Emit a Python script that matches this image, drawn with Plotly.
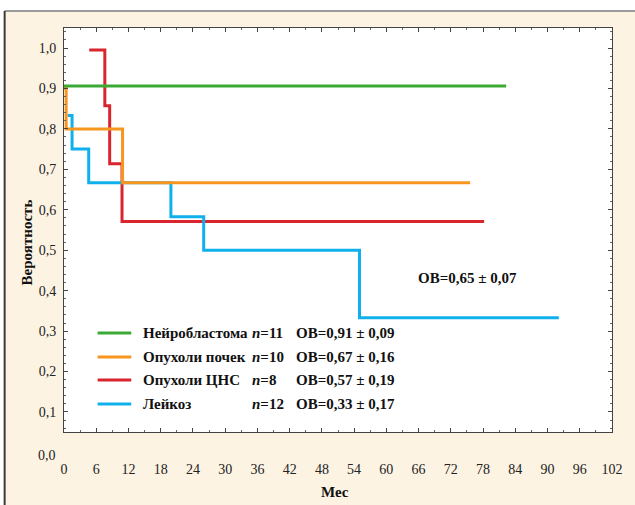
import plotly.graph_objects as go

# ---- data ----
x_ticks = list(range(0, 103, 6))
x_ticklabels = [str(v) for v in x_ticks]
y_ticks = [0.1, 0.2, 0.3, 0.4, 0.5, 0.6, 0.7, 0.8, 0.9, 1.0]
y_ticklabels = ["0,1", "0,2", "0,3", "0,4", "0,5", "0,6", "0,7", "0,8", "0,9", "1,0"]

green_t = [0, 82.3]
green_s = [0.906, 0.906]
orange_t = [0, 0.4, 10.9, 75.6]
orange_s = [0.9, 0.8, 0.667, 0.667]
red_t = [4.7, 7.6, 8.5, 10.8, 78.2]
red_s = [0.995, 0.857, 0.714, 0.571, 0.571]
blue_t = [0.7, 1.5, 4.6, 19.9, 26.0, 55.0, 92.1]
blue_s = [0.833, 0.75, 0.667, 0.583, 0.5, 0.333, 0.333]

groups = ["Нейробластома", "Опухоли почек", "Опухоли ЦНС", "Лейкоз"]
group_n = ["11", "10", "8", "12"]
group_ob = ["0,91 ± 0,09", "0,67 ± 0,16", "0,57 ± 0,19", "0,33 ± 0,17"]
overall_ob = "0,65 ± 0,07"

GREEN = "#3aaa35"
ORANGE = "#f7961f"
RED = "#d9262e"
BLUE = "#10b0ec"
colors = [GREEN, ORANGE, RED, BLUE]

W, H = 635, 505
L, R, T, B = 64, 618, 28, 432
FONT = "Liberation Serif"


def px(x):
    return (x - L) / (R - L)


def py(y):
    return (B - y) / (B - T)


fig = go.Figure()
for t, s, c in [(red_t, red_s, RED), (blue_t, blue_s, BLUE),
                (orange_t, orange_s, ORANGE), (green_t, green_s, GREEN)]:
    fig.add_trace(go.Scatter(x=t, y=s, mode="lines", line=dict(color=c, width=3, shape="hv"),
                             showlegend=False, hoverinfo="skip"))

shapes = [
    # cream panel with border
    dict(type="rect", xref="paper", yref="paper", x0=px(5), x1=px(645), y0=py(515), y1=py(11),
         fillcolor="#fdf3e3", line=dict(width=0), layer="below"),
    dict(type="line", xref="paper", yref="paper", x0=px(4), x1=px(645), y0=py(11), y1=py(11),
         line=dict(color="#9a9a9a", width=2), layer="below"),
    dict(type="line", xref="paper", yref="paper", x0=px(4), x1=px(4), y0=py(11), y1=py(515),
         line=dict(color="#3a3a3a", width=2), layer="below"),
    # white plot area
    dict(type="rect", xref="paper", yref="paper", x0=0, x1=1, y0=0, y1=1,
         fillcolor="white", line=dict(width=0), layer="below"),
]
annotations = []
leg_y = [333, 357, 380, 404]
for i, (g, n, ob) in enumerate(zip(groups, group_n, group_ob)):
    y = py(leg_y[i])
    shapes.append(dict(type="line", xref="paper", yref="paper", x0=px(98), x1=px(132), y0=y, y1=y,
                       line=dict(color=colors[i], width=3)))
    annotations.append(dict(xref="paper", yref="paper", x=px(142), y=y, xanchor="left", yanchor="middle",
                            text="<b>" + g + "</b>", showarrow=False,
                            font=dict(family=FONT, size=15, color="#111")))
    annotations.append(dict(xref="paper", yref="paper", x=px(252), y=y, xanchor="left", yanchor="middle",
                            text="<b><i>n</i>=" + n + "</b>", showarrow=False,
                            font=dict(family=FONT, size=15, color="#111")))
    annotations.append(dict(xref="paper", yref="paper", x=px(297), y=y, xanchor="left", yanchor="middle",
                            text="<b>OB=" + ob + "</b>", showarrow=False,
                            font=dict(family=FONT, size=15, color="#111")))

annotations.append(dict(xref="paper", yref="paper", x=px(420), y=py(278), xanchor="left", yanchor="middle",
                        text="<b>OB=" + overall_ob + "</b>", showarrow=False,
                        font=dict(family=FONT, size=15, color="#111")))
annotations.append(dict(xref="paper", yref="paper", x=px(58), y=py(455), xanchor="right", yanchor="middle",
                        text="0,0", showarrow=False, font=dict(family=FONT, size=14, color="#222")))
annotations.append(dict(xref="paper", yref="paper", x=px(27), y=py(242), xanchor="center", yanchor="middle",
                        text="<b>Вероятность</b>", textangle=-90, showarrow=False,
                        font=dict(family=FONT, size=15, color="#111")))
annotations.append(dict(xref="paper", yref="paper", x=px(338), y=py(492), xanchor="center", yanchor="middle",
                        text="<b>Мес</b>", showarrow=False,
                        font=dict(family=FONT, size=15, color="#111")))

fig.update_layout(
    width=W, height=H,
    margin=dict(l=L, r=W - R, t=T, b=H - B),
    paper_bgcolor="white", plot_bgcolor="rgba(0,0,0,0)",
    shapes=shapes, annotations=annotations,
    xaxis=dict(range=[0, 102], tickvals=x_ticks, ticktext=x_ticklabels, showgrid=False, zeroline=False,
               showline=True, linecolor="#444", linewidth=1, mirror="ticks", ticks="inside", ticklen=4,
               tickcolor="#444", ticklabelstandoff=24,
               minor=dict(ticks="inside", dtick=3, ticklen=2, tickcolor="#666"),
               tickfont=dict(family=FONT, size=14, color="#222")),
    yaxis=dict(range=[0.0505, 1.0495], tickvals=y_ticks, ticktext=y_ticklabels, showgrid=False, zeroline=False,
               showline=True, linecolor="#444", linewidth=1, mirror="ticks", ticks="inside", ticklen=4,
               tickcolor="#444", ticklabelstandoff=4,
               minor=dict(ticks="inside", dtick=0.02, tick0=0, ticklen=2, tickcolor="#666"),
               tickfont=dict(family=FONT, size=14, color="#222")),
)

fig.write_html("out.html")
